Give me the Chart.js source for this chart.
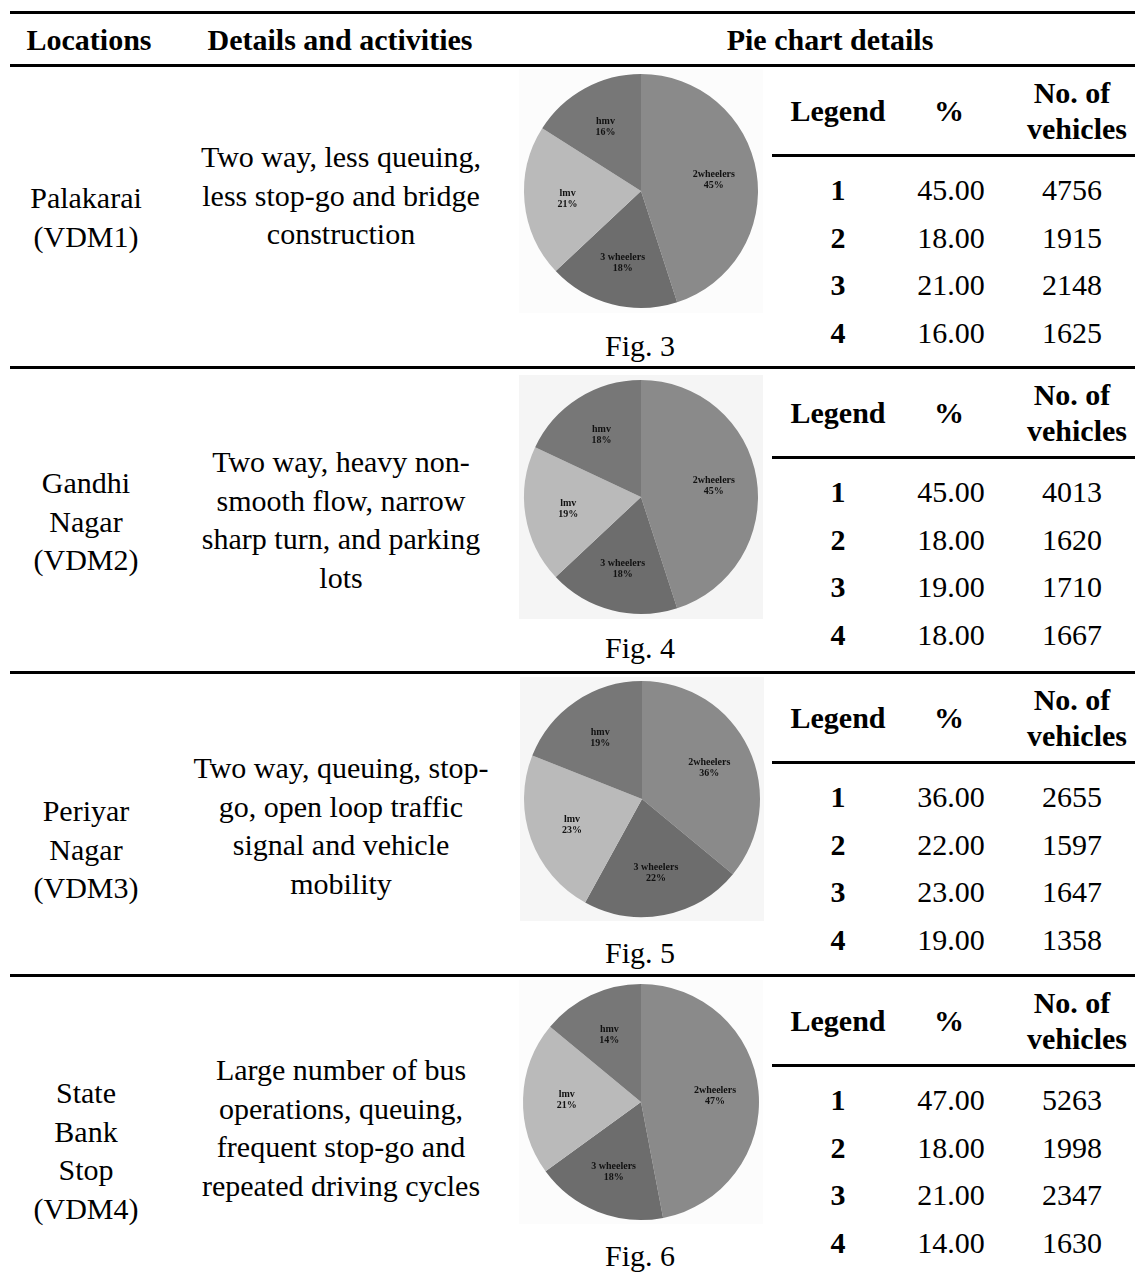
<!DOCTYPE html>
<html>
<head>
<meta charset="utf-8">
<title>Vehicle composition by location</title>
<script src="https://cdn.jsdelivr.net/npm/chart.js@4.4.1/dist/chart.umd.min.js"></script>
<style>
    body {
        margin: 0;
        background: #fff;
    }
    #page {
        position: relative;
        width: 1135px;
        height: 1274px;
        overflow: hidden;
        font-family: "Liberation Serif", "Times New Roman", serif;
        font-size: 30px;
        color: #000;
    }
    .txt {
        position: absolute;
        white-space: nowrap;
        line-height: 1;
        transform: translate(-50%, -50%);
    }
    .bold {
        font-weight: bold;
    }
    .rule {
        position: absolute;
        height: 3px;
        background: #000;
    }
    canvas {
        position: absolute;
    }
</style>
</head>
<body>
<div id="page"></div>

<script>
// ---- data ----
const headers = ['Locations', 'Details and activities', 'Pie chart details'];
const subHeaders = ['Legend', '%', 'No. of', 'vehicles'];
const categories = ['2wheelers', '3 wheelers', 'lmv', 'hmv'];
const legendIds = ['1', '2', '3', '4'];
const figLabels = ['Fig. 3', 'Fig. 4', 'Fig. 5', 'Fig. 6'];

const locations = [
    ['Palakarai', '(VDM1)'],
    ['Gandhi', 'Nagar', '(VDM2)'],
    ['Periyar', 'Nagar', '(VDM3)'],
    ['State', 'Bank', 'Stop', '(VDM4)']
];
const details = [
    ['Two way, less queuing,', 'less stop-go and bridge', 'construction'],
    ['Two way, heavy non-', 'smooth flow, narrow', 'sharp turn, and parking', 'lots'],
    ['Two way, queuing, stop-', 'go, open loop traffic', 'signal and vehicle', 'mobility'],
    ['Large number of bus', 'operations, queuing,', 'frequent stop-go and', 'repeated driving cycles']
];

const pctVDM1 = [45, 18, 21, 16];
const pctVDM2 = [45, 18, 19, 18];
const pctVDM3 = [36, 22, 23, 19];
const pctVDM4 = [47, 18, 21, 14];

const vehVDM1 = [4756, 1915, 2148, 1625];
const vehVDM2 = [4013, 1620, 1710, 1667];
const vehVDM3 = [2655, 1597, 1647, 1358];
const vehVDM4 = [5263, 1998, 2347, 1630];

const percents = [pctVDM1, pctVDM2, pctVDM3, pctVDM4];
const vehicles = [vehVDM1, vehVDM2, vehVDM3, vehVDM4];

// ---- layout ----
const rowTops = [65, 367, 672, 975];
const locFirstY = [198, 483, 811, 1093];
const detFirstY = [157, 462, 768, 1070];
const lineGap = 38.5;
const pieCenters = [[641, 191], [641, 497], [642, 799], [641, 1102]];
const pieRadius = [117, 117, 118, 118];
const pieBg = ['#fcfcfc', '#f5f5f5', '#f6f6f6', '#fcfcfc'];
const sliceColors = ['#8a8a8a', '#6d6d6d', '#bababa', '#777777'];

const page = document.getElementById('page');

function put(text, x, y, bold) {
    const el = document.createElement('div');
    el.className = bold ? 'txt bold' : 'txt';
    el.textContent = text;
    el.style.left = x + 'px';
    el.style.top = y + 'px';
    page.appendChild(el);
}

function rule(x1, x2, y) {
    const el = document.createElement('div');
    el.className = 'rule';
    el.style.left = x1 + 'px';
    el.style.width = (x2 - x1) + 'px';
    el.style.top = (y - 1) + 'px';
    page.appendChild(el);
}

// header
rule(10, 1135, 12);
put(headers[0], 89, 40, true);
put(headers[1], 340, 40, true);
put(headers[2], 830, 40, true);
rule(10, 1135, 65);

// pie label plugin: name + percent inside each slice
const sliceLabels = {
    id: 'sliceLabels',
    afterDatasetsDraw(chart) {
        const ctx = chart.ctx;
        const meta = chart.getDatasetMeta(0);
        const data = chart.data.datasets[0].data;
        ctx.save();
        ctx.fillStyle = '#111';
        ctx.font = 'bold 10px "Liberation Serif", serif';
        ctx.textAlign = 'center';
        ctx.textBaseline = 'middle';
        meta.data.forEach((arc, i) => {
            const p = arc.getProps(['x', 'y', 'startAngle', 'endAngle', 'outerRadius'], true);
            const mid = (p.startAngle + p.endAngle) / 2;
            const lx = p.x + Math.cos(mid) * p.outerRadius * 0.63;
            const ly = p.y + Math.sin(mid) * p.outerRadius * 0.63;
            ctx.fillText(chart.data.labels[i], lx, ly - 5);
            ctx.fillText(data[i] + '%', lx, ly + 6);
        });
        ctx.restore();
    }
};

const canvasBg = {
    id: 'canvasBg',
    beforeDraw(chart, args, opts) {
        const ctx = chart.ctx;
        ctx.save();
        ctx.fillStyle = opts.color;
        ctx.fillRect(0, 0, chart.width, chart.height);
        ctx.restore();
    }
};

rowTops.forEach((top, r) => {
    // location and details
    locations[r].forEach((line, i) => put(line, 86, locFirstY[r] + i * lineGap, false));
    details[r].forEach((line, i) => put(line, 341, detFirstY[r] + i * lineGap, false));

    // pie chart
    const size = 244;
    const [cx, cy] = pieCenters[r];
    const cv = document.createElement('canvas');
    cv.width = size;
    cv.height = size;
    cv.style.left = (cx - size / 2) + 'px';
    cv.style.top = (cy - size / 2) + 'px';
    page.appendChild(cv);
    new Chart(cv.getContext('2d'), {
        type: 'pie',
        data: {
            labels: categories,
            datasets: [{
                data: percents[r],
                backgroundColor: sliceColors,
                borderWidth: 0,
                hoverOffset: 0
            }]
        },
        options: {
            responsive: false,
            animation: false,
            radius: pieRadius[r],
            layout: { padding: 0 },
            plugins: {
                legend: { display: false },
                tooltip: { enabled: false },
                canvasBg: { color: pieBg[r] }
            }
        },
        plugins: [canvasBg, sliceLabels]
    });
    put(figLabels[r], 640, top + 281, false);

    // legend sub-table
    put(subHeaders[0], 838, top + 46, true);
    put(subHeaders[1], 949, top + 46, true);
    put(subHeaders[2], 1072, top + 28, true);
    put(subHeaders[3], 1077, top + 64, true);
    rule(772, 1135, top + 90);
    legendIds.forEach((id, i) => {
        const y = top + 125 + i * 47.7;
        put(id, 838, y, true);
        put(percents[r][i].toFixed(2), 951, y, false);
        put(String(vehicles[r][i]), 1072, y, false);
    });

    if (r > 0) rule(10, 1135, top);
});
</script>
</body>
</html>
